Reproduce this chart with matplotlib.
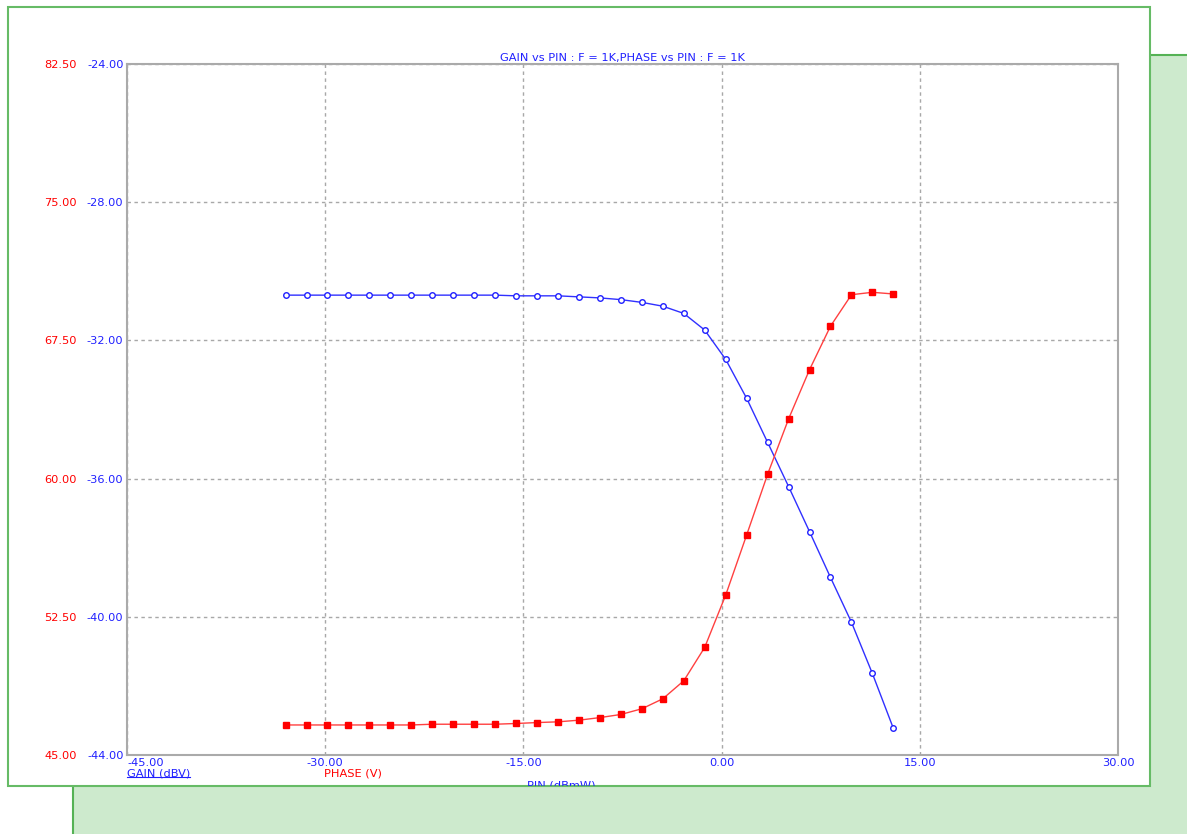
import numpy as np
import matplotlib
matplotlib.use("Agg")
import matplotlib.pyplot as plt
from matplotlib.patches import Rectangle
from matplotlib.lines import Line2D

# data
pin = [-33.0, -31.41, -29.83, -28.24, -26.66, -25.07, -23.48, -21.90, -20.31, -18.72,
       -17.14, -15.55, -13.97, -12.38, -10.79, -9.21, -7.62, -6.03, -4.45, -2.86,
       -1.28, 0.31, 1.90, 3.48, 5.07, 6.66, 8.24, 9.83, 11.41, 13.0]
gain = [-30.69, -30.69, -30.69, -30.69, -30.69, -30.69, -30.69, -30.69, -30.69, -30.69,
        -30.69, -30.71, -30.71, -30.71, -30.74, -30.77, -30.82, -30.90, -31.01, -31.22,
        -31.70, -32.55, -33.68, -34.95, -36.23, -37.54, -38.86, -40.16, -41.64, -43.23]
phase = [46.63, 46.63, 46.63, 46.63, 46.63, 46.63, 46.63, 46.67, 46.67, 46.67,
         46.67, 46.71, 46.76, 46.80, 46.89, 47.03, 47.20, 47.51, 48.05, 49.03,
         50.84, 53.68, 56.95, 60.23, 63.24, 65.92, 68.27, 69.98, 70.11, 70.02]

x_ticks = [-45, -30, -15, 0, 15, 30]
gain_ticks = [-44, -40, -36, -32, -28, -24]
phase_ticks = [45.0, 52.5, 60.0, 67.5, 75.0, 82.5]

title = "GAIN vs PIN : F = 1K,PHASE vs PIN : F = 1K"

W, H = 1187, 834
BLUE = "#2020ff"
RED = "#ff0000"
FS = 8.2
plt.rcParams["font.family"] = "DejaVu Sans"


def fx(x):
    return x / W


def fy(y):
    return 1 - y / H


fig = plt.figure(figsize=(W / 100, H / 100), dpi=100)
fig.patch.set_facecolor("white")

# background panels
green = Rectangle((fx(73), fy(900)), fx(1300) - fx(73), fy(55) - fy(900),
                  transform=fig.transFigure, facecolor="#cdeacd",
                  edgecolor="#55b255", lw=1.5, zorder=-3)
fig.add_artist(green)
box = Rectangle((fx(8), fy(786)), fx(1150) - fx(8), fy(7) - fy(786),
                transform=fig.transFigure, facecolor="white",
                edgecolor="#66bb66", lw=1.5, zorder=-2)
fig.add_artist(box)

ax = fig.add_axes([fx(127), fy(755), fx(1118) - fx(127), fy(64) - fy(755)])
ax.set_xlim(-45, 30)
ax.set_ylim(-44, -24)
for s in ax.spines.values():
    s.set_color("#aaaaaa")
    s.set_linewidth(1.5)

ax.set_xticks(x_ticks)
ax.set_xticklabels(["%.2f" % v for v in x_ticks], color=BLUE, fontsize=FS)
ax.set_yticks(gain_ticks)
ax.set_yticklabels(["%.2f" % v for v in gain_ticks], color=BLUE, fontsize=FS)
ax.tick_params(length=0, pad=2.5)
ax.get_xticklabels()[0].set_horizontalalignment("left")
ax.grid(True, color="#a8a8a8", lw=1, ls=(0, (2.5, 2.5)))

ax2 = ax.twinx()
ax2.set_ylim(45, 82.5)
ax2.yaxis.tick_left()
ax2.set_yticks(phase_ticks)
ax2.set_yticklabels(["%.2f" % v for v in phase_ticks], color=RED, fontsize=FS)
ax2.tick_params(length=0, pad=36)
for s in ax2.spines.values():
    s.set_visible(False)

ax.plot(pin, gain, color="#3030ff", lw=1, marker="o", ms=4, mfc="white",
        mec="#2020ff", mew=1, zorder=3)
ax2.plot(pin, phase, color="#ff4040", lw=1, marker="s", ms=5, mfc=RED,
         mec=RED, zorder=3)

fig.text(fx(622.5), fy(58), title, color=BLUE, fontsize=FS, ha="center", va="center")
gl = fig.text(fx(127), fy(773), "GAIN (dBV)", color=BLUE, fontsize=FS, ha="left", va="center")
fig.text(fx(324), fy(773), "PHASE (V)", color=RED, fontsize=FS, ha="left", va="center")
pl = fig.text(fx(527), fy(785), "PIN (dBmW)", color=BLUE, fontsize=FS, ha="left", va="center")
pl.set_clip_path(box)

# underline the gain label
fig.canvas.draw()
bb = gl.get_window_extent().transformed(fig.transFigure.inverted())
fig.add_artist(Line2D([bb.x0, bb.x1], [bb.y0 + 0.001, bb.y0 + 0.001],
                      transform=fig.transFigure, color=BLUE, lw=0.8))

fig.savefig("out.png", dpi=100)
